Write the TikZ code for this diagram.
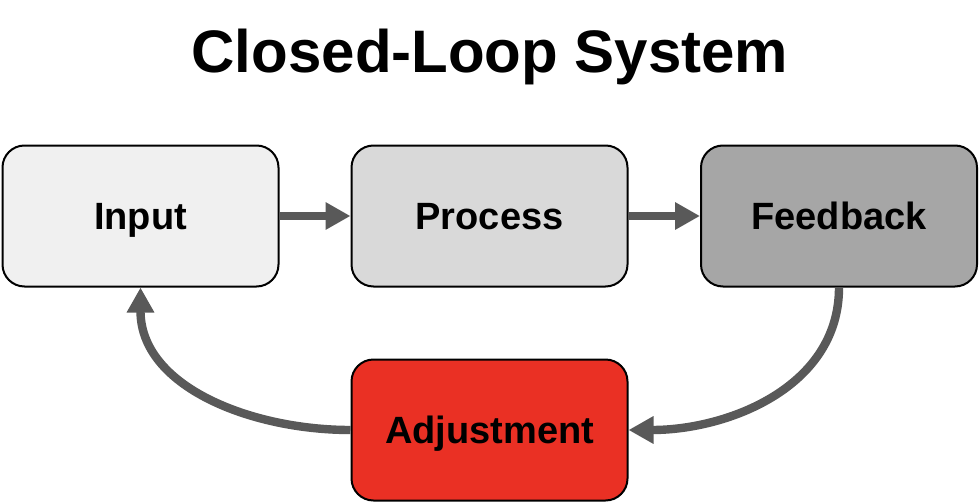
\documentclass[tikz,border=0pt]{standalone}
\usepackage{fontspec}
\setmainfont{Liberation Sans}
\usetikzlibrary{arrows.meta}

\definecolor{boxone}{HTML}{F0F0F0}
\definecolor{boxtwo}{HTML}{D9D9D9}
\definecolor{boxthree}{HTML}{A6A6A6}
\definecolor{adjred}{HTML}{EA3024}
\definecolor{arrowgray}{HTML}{595959}

\begin{document}
\begin{tikzpicture}[x=0.5pt, y=-0.5pt,
    box/.style={draw=black, line width=1pt, rounded corners=11pt, minimum width=138pt, minimum height=70.5pt, text height=15pt, text depth=2pt, font=\fontsize{19}{22}\selectfont\bfseries},
    flow/.style={-{Triangle[length=12.5pt, width=13pt]}, draw=arrowgray, line width=4.2pt}]
            \useasboundingbox (0,0) rectangle (980,503);
            % Title
            \node[font=\fontsize{30}{36}\selectfont\bfseries] (title) at (490,57) {Closed-Loop System};

            % Nodes
            \node[box, fill=boxone] (in) at (140.5,216) {Input};
            \node[box, fill=boxtwo] (proc) at (489.5,216) {Process};
            \node[box, fill=boxthree] (fb) at (839,216) {Feedback};
            \node[box, fill=adjred] (adj) at (489.5,430) {Adjustment};

            % Arrows
            \draw[flow] (in) -- (proc);
            \draw[flow] (proc) -- (fb);
            \draw[flow] (fb.south) to[out=-90, in=0] (adj.east);
            \draw[flow] (adj.west) to[out=180, in=-90] (in.south);
          \end{tikzpicture}
\end{document}
